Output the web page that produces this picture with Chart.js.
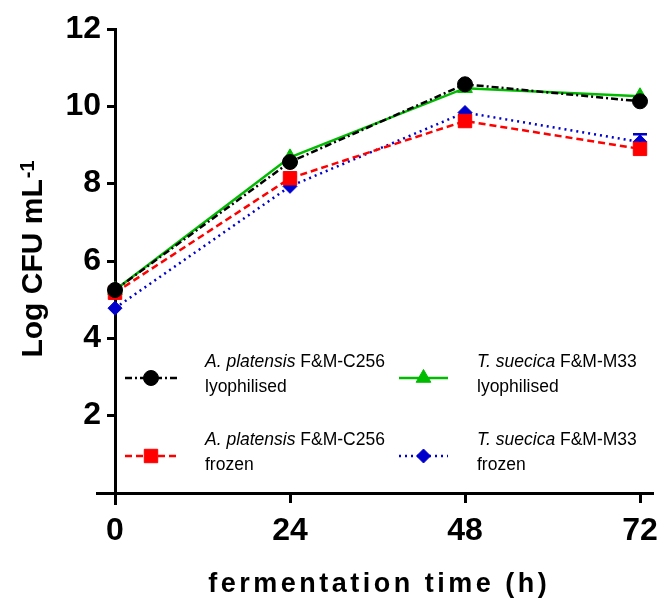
<!DOCTYPE html>
<html><head><meta charset="utf-8">
<script src="https://cdn.jsdelivr.net/npm/chart.js@4.4.0/dist/chart.umd.min.js"></script>
<style>html,body{margin:0;padding:0;background:#fff}#wrap{width:659px;height:606px;position:relative}</style>
</head><body><div id="wrap"><canvas id="c"></canvas></div>
<script>
// ---- data ----
const times = [0, 24, 48, 72];
const xTicks = [0, 24, 48, 72];
const yTicks = [0, 2, 4, 6, 8, 10, 12];
const apLyo = [5.25, 8.56, 10.57, 10.13];
const apFrozen = [5.18, 8.14, 9.62, 8.90];
const tsLyo = [5.25, 8.68, 10.47, 10.26];
const tsFrozen = [4.78, 7.93, 9.84, 9.08];
const apLyoErr = [0, 0, 0, 0];
const apFrozenErr = [0, 0, 0, 0];
const tsLyoErr = [0, 0, 0, 0];
const tsFrozenErr = [0, 0, 0, 0.2];
const seriesNames = [
  ['A. platensis', ' F&M-C256', 'lyophilised'],
  ['A. platensis', ' F&M-C256', 'frozen'],
  ['T. suecica', ' F&M-M33', 'lyophilised'],
  ['T. suecica', ' F&M-M33', 'frozen']
];
const xTitle = 'fermentation time (h)';
const yTitleMain = 'Log CFU mL';
const yTitleSup = '-1';

const FONT = "'Liberation Sans', Arial, sans-serif";
const toPts = arr => arr.map((v, i) => ({x: times[i], y: v}));

const datasets = [
  {label: 'apLyo', data: toPts(apLyo), err: apLyoErr, borderColor: '#000', backgroundColor: '#000',
   borderDash: [7, 3, 2, 3], pointStyle: 'circle', pointRadius: 7.5, legend: {col: 0, row: 0}},
  {label: 'apFrozen', data: toPts(apFrozen), err: apFrozenErr, borderColor: '#ff0000', backgroundColor: '#ff0000',
   borderDash: [7, 4], pointStyle: 'rect', pointRadius: 9.5, legend: {col: 0, row: 1}},
  {label: 'tsLyo', data: toPts(tsLyo), err: tsLyoErr, borderColor: '#00bb00', backgroundColor: '#00bb00',
   borderDash: [], pointStyle: 'triangle', pointRadius: 8.5, legend: {col: 1, row: 0}},
  {label: 'tsFrozen', data: toPts(tsFrozen), err: tsFrozenErr, borderColor: '#0000cc', backgroundColor: '#0000cc',
   borderDash: [2, 4], pointStyle: 'rectRot', pointRadius: 7, legend: {col: 1, row: 1}}
].map((d, i) => Object.assign(d, {borderWidth: 2.5, pointBorderWidth: 1, pointBorderColor: d.borderColor,
  pointBackgroundColor: d.backgroundColor, pointHoverRadius: d.pointRadius, tension: 0, clip: false, name: seriesNames[i]}));

function align(p, w) { return Math.round(p - w / 2) + w / 2; }

const decorPlugin = {
  id: 'decor',
  beforeDatasetsDraw(chart) {
    const {ctx, chartArea: a} = chart;
    ctx.save();
    ctx.strokeStyle = '#000';
    ctx.lineWidth = 3;
    ctx.lineCap = 'butt';
    const yb = align(a.bottom, 3), xl = align(a.left, 3);
    ctx.beginPath();
    ctx.moveTo(a.left - 19, yb); ctx.lineTo(a.right + 14, yb);
    ctx.moveTo(xl, a.top); ctx.lineTo(xl, a.bottom + 12);
    ctx.stroke();
    ctx.restore();
  },
  afterDatasetsDraw(chart) {
    const {ctx} = chart;
    const xs = chart.scales.x, ys = chart.scales.y;
    ctx.save();
    chart.data.datasets.forEach(ds => {
      ds.data.forEach((p, i) => {
        const e = ds.err[i];
        if (!e) return;
        const px = xs.getPixelForValue(p.x);
        const y1 = ys.getPixelForValue(p.y), y2 = ys.getPixelForValue(p.y + e);
        ctx.strokeStyle = ds.borderColor; ctx.lineWidth = 2.5; ctx.setLineDash([]);
        ctx.beginPath();
        ctx.moveTo(px, y1); ctx.lineTo(px, y2);
        ctx.moveTo(px - 7, y2); ctx.lineTo(px + 7, y2);
        ctx.stroke();
      });
    });
    ctx.restore();
  },
  afterDraw(chart) {
    const {ctx, chartArea: a} = chart;
    ctx.save();
    ctx.fillStyle = '#000';
    // y title
    ctx.font = `bold 30px ${FONT}`;
    const w1 = ctx.measureText(yTitleMain).width;
    ctx.font = `bold 20px ${FONT}`;
    const w2 = ctx.measureText(yTitleSup).width;
    const total = w1 + 1 + w2;
    const cy = (a.top + a.bottom) / 2 - 2;
    ctx.save();
    ctx.translate(42, cy + total / 2);
    ctx.rotate(-Math.PI / 2);
    ctx.textAlign = 'left'; ctx.textBaseline = 'alphabetic';
    ctx.font = `bold 30px ${FONT}`;
    ctx.fillText(yTitleMain, 0, 0);
    ctx.font = `bold 20px ${FONT}`;
    ctx.fillText(yTitleSup, w1 + 1, -8);
    ctx.restore();
    // x title
    ctx.font = `bold 27px ${FONT}`;
    ctx.letterSpacing = '3.5px';
    const wx = ctx.measureText(xTitle).width - 3.5;
    ctx.textAlign = 'left'; ctx.textBaseline = 'alphabetic';
    ctx.fillText(xTitle, (a.left + a.right) / 2 - wx / 2, 592);
    ctx.letterSpacing = '0px';
    // legend
    const colSym = [[125, 177], [399, 448]];
    const colText = [205, 477];
    const rowSym = [378, 456];
    chart.data.datasets.forEach(ds => {
      const {col, row} = ds.legend;
      const [sx0, sx1] = colSym[col];
      const sy = rowSym[row];
      ctx.save();
      ctx.strokeStyle = ds.borderColor; ctx.lineWidth = 2.5;
      ctx.setLineDash(ds.borderDash);
      ctx.beginPath(); ctx.moveTo(sx0, sy); ctx.lineTo(sx1, sy); ctx.stroke();
      ctx.setLineDash([]);
      ctx.fillStyle = ds.backgroundColor; ctx.strokeStyle = ds.borderColor; ctx.lineWidth = 1;
      Chart.helpers.drawPoint(ctx, {pointStyle: ds.pointStyle, radius: ds.pointRadius, rotation: 0, borderWidth: 1}, (sx0 + sx1) / 2, sy);
      ctx.restore();
      const tx = colText[col], ty1 = sy - 11, ty2 = sy + 14;
      ctx.fillStyle = '#000';
      ctx.textAlign = 'left'; ctx.textBaseline = 'alphabetic';
      ctx.font = `italic 17.5px ${FONT}`;
      ctx.fillText(ds.name[0], tx, ty1);
      const wi = ctx.measureText(ds.name[0]).width;
      ctx.font = `17.5px ${FONT}`;
      ctx.fillText(ds.name[1], tx + wi, ty1);
      ctx.fillText(ds.name[2], tx, ty2);
    });
    ctx.restore();
  }
};

new Chart(document.getElementById('c'), {
  type: 'line',
  data: {datasets},
  options: {
    responsive: true, maintainAspectRatio: false, animation: false,
    layout: {padding: {top: 29, right: 19, left: 0, bottom: 0}},
    plugins: {legend: {display: false}, tooltip: {enabled: false}},
    scales: {
      x: {
        type: 'linear', min: 0, max: 72,
        afterBuildTicks: s => { s.ticks = xTicks.map(v => ({value: v})); },
        afterFit: s => { s.height = 113; s.paddingLeft = 0; s.paddingRight = 0; },
        ticks: {color: '#000', font: {family: FONT, size: 32, weight: 'bold'}, padding: 9, maxRotation: 0},
        grid: {drawOnChartArea: false, drawTicks: true, tickLength: 10, tickWidth: 3, color: '#000'},
        border: {display: true, color: '#000', width: 3}
      },
      y: {
        type: 'linear', min: 0, max: 12,
        afterBuildTicks: s => { s.ticks = yTicks.map(v => ({value: v})); },
        afterFit: s => { s.width = 115; s.paddingTop = 0; s.paddingBottom = 0; },
        ticks: {color: '#000', font: {family: FONT, size: 32, weight: 'bold'}, padding: 6,
          callback: v => (v === 0 ? '' : String(v))},
        grid: {drawOnChartArea: false, drawTicks: true, tickLength: 8, tickWidth: 3, color: '#000'},
        border: {display: true, color: '#000', width: 3}
      }
    }
  },
  plugins: [decorPlugin]
});
</script></body></html>
